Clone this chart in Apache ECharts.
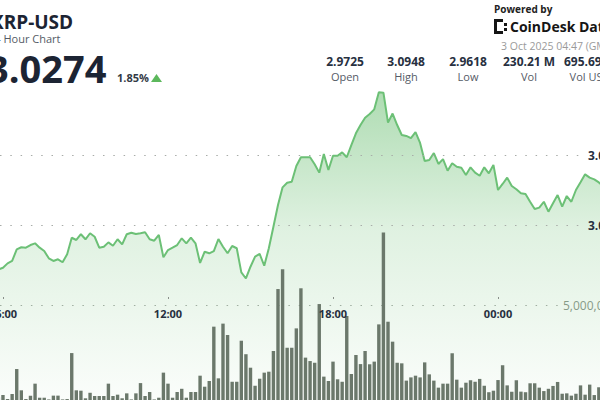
<!DOCTYPE html>
<html>
<head>
<meta charset="utf-8">
<script src="https://cdn.jsdelivr.net/npm/echarts@6/dist/echarts.min.js"></script>
<style>
html,body{margin:0;padding:0;background:#ffffff;}
#c{width:600px;height:400px;}
</style>
</head>
<body>
<div id="c"></div>
<script>
// ---------- data ----------
const symbol = "XRP-USD";
const subtitle = "24 Hour Chart";
const lastPrice = "3.0274";
const changePct = "1.85%";
const statValues = ["2.9725", "3.0948", "2.9618", "230.21 M", "695.69 M"];
const statLabels = ["Open", "High", "Low", "Vol", "Vol USD"];
const poweredBy = "Powered by";
const brand = "CoinDesk Data";
const stamp = "3 Oct 2025 04:47 (GMT)";

const startTime = "05:50";
const stepMinutes = 10;
const tickLabels = ["06:00", "12:00", "18:00", "00:00"];
const priceTickValues = [2.95, 3.00, 3.05, 3.10];
const volumeTickValues = [0, 5000000, 10000000];

const prices = [
  2.9682, 2.9695, 2.9726, 2.9743, 2.9826, 2.9841, 2.9838, 2.9857, 2.9869, 2.9838,
  2.9814, 2.9762, 2.9743, 2.9755, 2.9734, 2.9791, 2.9909, 2.9893, 2.9934, 2.9898,
  2.9941, 2.9916, 2.9838, 2.9845, 2.9876, 2.9852, 2.9898, 2.9862, 2.9934, 2.9945,
  2.9936, 2.9941, 2.9948, 2.9898, 2.9888, 2.9929, 2.9769, 2.9821, 2.9838, 2.9857,
  2.9905, 2.9869, 2.9909, 2.9869, 2.9729, 2.9809, 2.9798, 2.9814, 2.9900, 2.9845,
  2.9798, 2.9850, 2.9834, 2.9662, 2.9618, 2.9702, 2.9774, 2.9793, 2.9709, 2.9834,
  2.9988, 3.0143, 3.0269, 3.0302, 3.0309, 3.0421, 3.0484, 3.0484, 3.0484, 3.0434,
  3.0374, 3.0507, 3.0393, 3.0495, 3.0495, 3.0519, 3.0484, 3.0571, 3.0655, 3.0714,
  3.0766, 3.0793, 3.0826, 3.0948, 3.0945, 3.0731, 3.0796, 3.0714, 3.0643, 3.0636,
  3.0621, 3.0664, 3.0586, 3.0457, 3.0464, 3.0514, 3.0436, 3.0471, 3.0388, 3.0441,
  3.0416, 3.0409, 3.0357, 3.0412, 3.0374, 3.0352, 3.0412, 3.0369, 3.0429, 3.0250,
  3.0293, 3.0338, 3.0279, 3.0255, 3.0226, 3.0221, 3.0166, 3.0114, 3.0124, 3.0166,
  3.0095, 3.0155, 3.0214, 3.0131, 3.0207, 3.0166, 3.0250, 3.0305, 3.0362, 3.0338,
  3.0326, 3.0304, 3.0274
];

// volume in millions
const volumes = [
  0.15, 0.26, 0.05, 0.32, 1.63, 0.51, 0.05, 0.23, 0.86, 0.12,
  0.12, 0.03, 0.23, 0.23, 0.03, 0.05, 2.47, 0.51, 0.49, 0.09,
  0.38, 0.21, 0.21, 0.21, 0.86, 0.21, 0.28, 0.09, 0.35, 0.03,
  0.35, 0.89, 0.21, 0.42, 0.03, 0.12, 1.44, 0.86, 0.12, 0.42,
  0.59, 0.12, 0.42, 0.42, 1.28, 0.70, 1.00, 3.86, 1.14, 4.02,
  3.42, 0.96, 0.96, 3.12, 2.41, 1.70, 0.75, 1.12, 1.44, 1.49,
  2.58, 5.84, 6.88, 2.75, 2.75, 3.77, 5.88, 2.23, 2.05, 1.96,
  5.05, 1.23, 1.00, 2.02, 1.09, 0.96, 4.42, 1.37, 2.37, 1.89,
  2.58, 1.88, 2.02, 3.98, 8.81, 4.12, 3.07, 1.96, 1.93, 1.02,
  1.19, 1.28, 1.19, 1.98, 1.35, 1.02, 0.65, 0.86, 0.86, 2.46,
  1.07, 0.65, 0.91, 1.04, 0.96, 1.11, 0.75, 0.41, 0.49, 1.05,
  1.83, 0.77, 0.44, 1.04, 0.44, 0.41, 0.88, 0.88, 0.65, 0.47,
  0.59, 0.74, 0.95, 0.33, 0.35, 0.23, 0.33, 0.77, 0.28, 0.81,
  0.26, 0.67, 0.30
];

// ---------- build ----------
function toMin(t) { const p = t.split(":"); return (+p[0]) * 60 + (+p[1]); }
const startMin = toMin(startTime);
function pad(n) { return (n < 10 ? "0" : "") + n; }
const times = prices.map((_, i) => {
  const m = (startMin + i * stepMinutes) % 1440;
  return pad(Math.floor(m / 60)) + ":" + pad(m % 60);
});
function axisMin(t) { let m = toMin(t); if (m < startMin) m += 1440; return m; }
const xVals = times.map(axisMin);
const tickMinutes = tickLabels.map(axisMin);

const priceData = xVals.map((m, i) => [m, prices[i]]);
const volData = xVals.map((m, i) => [m, Math.round(volumes[i] * 1e6)]);

const X_MIN = 353.5, X_MAX = 1662.5;
const FONT = "'Open Sans', 'Liberation Sans', sans-serif";
const DARK = "#1c2433";

function txt(x, y, text, font, fill, align, lh) {
  return { type: 'text', x: x, y: y, z: 100, silent: true,
    style: { text: text, font: font, fill: fill, align: align || 'left', verticalAlign: 'middle', lineHeight: lh } };
}

const graphics = [
  txt(-9, 22, symbol, "bold 19px " + FONT, DARK, 'left', 19),
  txt(-12, 38.5, subtitle, "11px " + FONT, "#555b66", 'left', 11),
  txt(-13, 67.5, lastPrice, "bold 38px " + FONT, DARK, 'left', 38),
  txt(117, 77, changePct, "bold 11px " + FONT, "#333a46", 'left', 11),
  { type: 'polygon', z: 100, silent: true, shape: { points: [[151, 82], [162, 82], [156.5, 74]] }, style: { fill: '#5cb85c' } },
  txt(494, 8.5, poweredBy, "bold 10px " + FONT, "#222222", 'left', 10),
  txt(510, 26.5, brand, "bold 14px " + FONT, "#151515", 'left', 14),
  txt(501, 46, stamp, "10.5px " + FONT, "#9a9a9a", 'left', 11),
  // logo mark
  { type: 'rect', z: 100, silent: true, shape: { x: 494, y: 19, width: 3, height: 15 }, style: { fill: '#151515' } },
  { type: 'rect', z: 100, silent: true, shape: { x: 494, y: 19, width: 9, height: 3 }, style: { fill: '#151515' } },
  { type: 'rect', z: 100, silent: true, shape: { x: 494, y: 31, width: 9, height: 3 }, style: { fill: '#151515' } },
  { type: 'rect', z: 100, silent: true, shape: { x: 504, y: 23, width: 3, height: 3 }, style: { fill: '#151515' } },
  { type: 'rect', z: 100, silent: true, shape: { x: 504, y: 28, width: 3, height: 3 }, style: { fill: '#151515' } }
];
const statX = [345, 406, 468, 529, 590];
statValues.forEach((v, i) => {
  graphics.push(txt(statX[i], 61.5, v, "bold 12px " + FONT, "#27303f", 'center', 12));
  graphics.push(txt(statX[i], 76, statLabels[i], "11px " + FONT, "#555b66", 'center', 11));
});

const dotted = { type: [1.5, 8.8], color: '#a8aca8', width: 1.2 };

const option = {
  animation: false,
  backgroundColor: '#ffffff',
  graphic: graphics,
  grid: [
    { left: 0, right: 0, top: 85, bottom: 0, containLabel: false, outerBoundsMode: 'none' },
    { left: 0, right: 0, top: 210, bottom: 0, containLabel: false, outerBoundsMode: 'none' },
    { left: 0, right: 16, top: 85, bottom: 105, containLabel: false, outerBoundsMode: 'none' },
    { left: 0, right: 41, top: 210, bottom: 0, containLabel: false, outerBoundsMode: 'none' }
  ],
  xAxis: [
    { type: 'value', gridIndex: 0, min: X_MIN, max: X_MAX, offset: -103, z: 6,
      axisLine: { show: false }, splitLine: { show: false },
      axisTick: { show: true, customValues: tickMinutes, length: 2, lineStyle: { color: '#8a8f8a', width: 1 } },
      axisLabel: { customValues: tickMinutes, margin: 11, color: '#27303f', fontWeight: 'bold', fontSize: 11, fontFamily: FONT,
        formatter: function (v) { const i = tickMinutes.indexOf(v); return i >= 0 ? tickLabels[i] : ''; } } },
    { type: 'value', gridIndex: 1, min: X_MIN, max: X_MAX, show: false },
    { type: 'value', gridIndex: 2, min: 0, max: 1, show: false },
    { type: 'value', gridIndex: 3, min: 0, max: 1, show: false }
  ],
  yAxis: [
    { type: 'value', gridIndex: 0, min: 2.875, max: 3.10, show: false },
    { type: 'value', gridIndex: 1, min: volumeTickValues[0], max: volumeTickValues[2], show: false },
    { type: 'value', gridIndex: 2, position: 'right', z: 6,
      min: priceTickValues[0], max: priceTickValues[3], interval: 0.05,
      axisLine: { show: false }, axisTick: { show: false },
      axisLabel: { showMinLabel: false, showMaxLabel: false, margin: 4, color: '#27303f', fontWeight: 'bold', fontSize: 12, fontFamily: FONT,
        formatter: function (v) { return v.toFixed(2); } },
      splitLine: { show: true, showMinLine: false, showMaxLine: false, lineStyle: dotted } },
    { type: 'value', gridIndex: 3, position: 'right', z: 1,
      min: volumeTickValues[0], max: volumeTickValues[2], interval: volumeTickValues[1],
      axisLine: { show: false }, axisTick: { show: false },
      axisLabel: { showMinLabel: false, showMaxLabel: false, margin: 4, color: '#8c968c', fontSize: 12, fontFamily: FONT,
        formatter: function (v) { return v.toLocaleString('en-US'); } },
      splitLine: { show: true, showMinLine: false, showMaxLine: false, lineStyle: dotted } }
  ],
  series: [
    { type: 'line', xAxisIndex: 0, yAxisIndex: 0, data: priceData, symbol: 'none', z: 2,
      lineStyle: { color: '#6cc076', width: 2 },
      areaStyle: { color: new echarts.graphic.LinearGradient(0, 0, 0, 1, [
        { offset: 0, color: 'rgba(96,186,104,0.72)' },
        { offset: 0.45, color: 'rgba(96,186,104,0.28)' },
        { offset: 1, color: 'rgba(96,186,104,0.04)' }
      ]) } },
    { type: 'bar', xAxisIndex: 1, yAxisIndex: 1, data: volData, barWidth: 3.4, z: 3,
      itemStyle: { color: '#6b786b' } }
  ]
};

const chart = echarts.init(document.getElementById('c'), null, { renderer: 'svg', width: 600, height: 400 });
chart.setOption(option);
</script>
</body>
</html>
